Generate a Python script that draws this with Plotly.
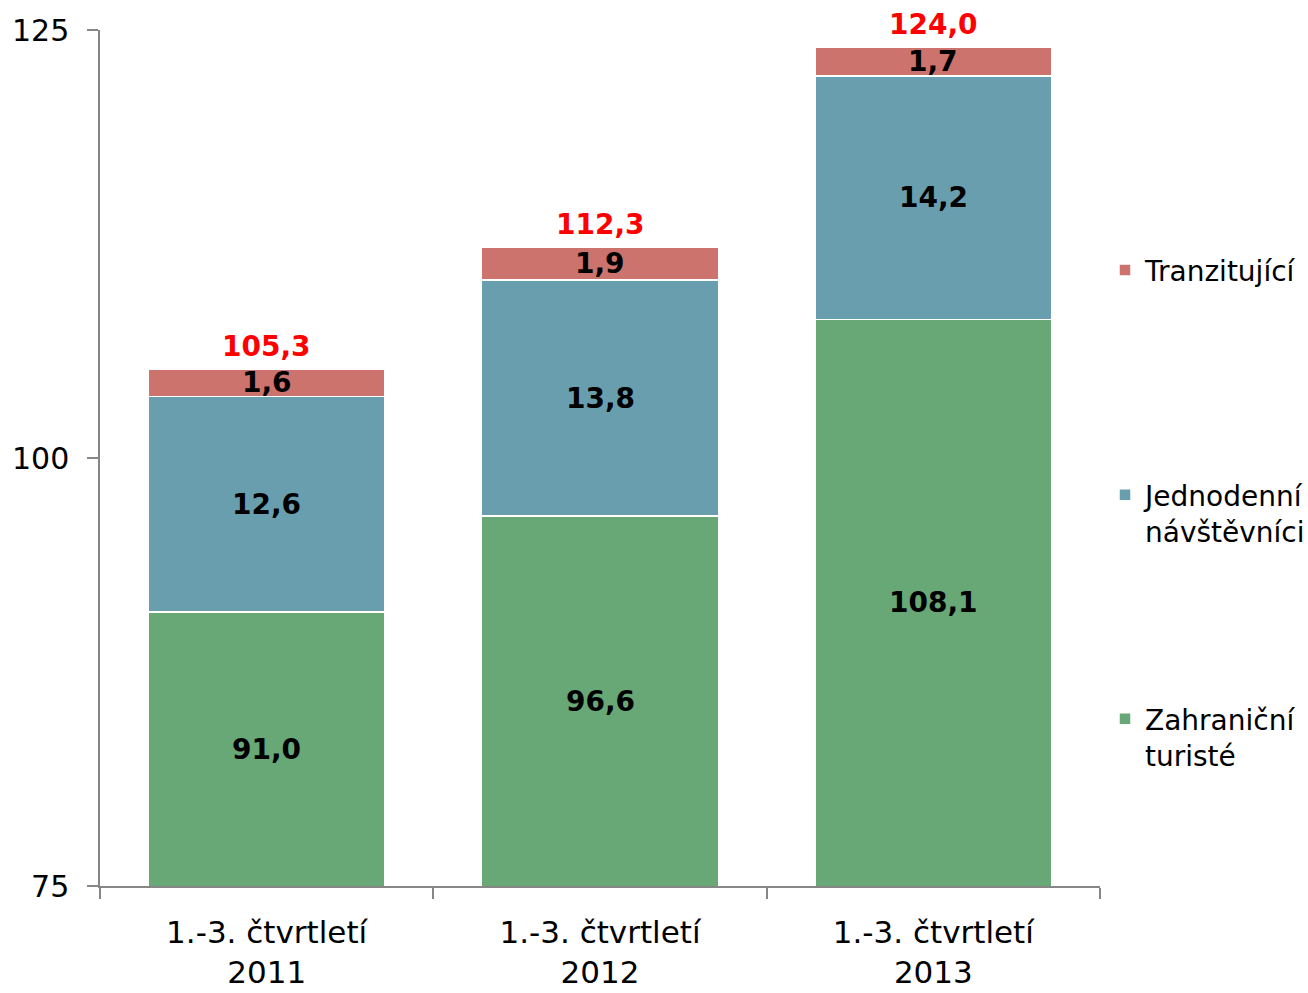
import plotly.graph_objects as go

categories = ["1.-3. čtvrtletí<br>2011", "1.-3. čtvrtletí<br>2012", "1.-3. čtvrtletí<br>2013"]
zahranicni = [91.0, 96.6, 108.1]
jednodenni = [12.6, 13.8, 14.2]
tranzit = [1.6, 1.9, 1.7]
totals = [105.3, 112.3, 124.0]
series_names = ["Zahraniční<br>turisté", "Jednodenní<br>návštěvníci", "Tranzitující"]
colors = ["#68A776", "#689EAE", "#CC736E"]

Y_MIN, Y_MAX = 75, 125
FONT = "DejaVu Sans"

def fmt(v):
    return f"{v:.1f}".replace(".", ",")

fig = go.Figure()
series = [zahranicni, jednodenni, tranzit]
legends = ["legend3", "legend2", "legend"]
for vals, name, col, lg in zip(series, series_names, colors, legends):
    fig.add_trace(go.Bar(
        x=categories, y=vals, name=name,
        marker=dict(color=col, line=dict(color="white", width=1.5)),
        legend=lg, showlegend=True, hoverinfo="skip",
    ))

# segment labels
annotations = []
for i, cat in enumerate(categories):
    base = 0.0
    for vals in series:
        lo = max(base, Y_MIN)
        hi = base + vals[i]
        annotations.append(dict(
            x=cat, y=(lo + hi) / 2, xref="x", yref="y", text=fmt(vals[i]),
            showarrow=False, font=dict(family=FONT, size=28, color="black", weight="bold"),
        ))
        base = hi
    annotations.append(dict(
        x=cat, y=base, xref="x", yref="y", text=fmt(totals[i]),
        showarrow=False, yanchor="bottom", yshift=4,
        font=dict(family=FONT, size=28, color="#FF0000", weight="bold"),
    ))

legend_style = dict(font=dict(family=FONT, size=28, color="black"), bgcolor="rgba(0,0,0,0)",
                    xref="container", yref="container",
                    xanchor="left", yanchor="top", valign="top", itemwidth=30)

fig.update_layout(
    width=1308, height=993,
    margin=dict(l=100, r=208, t=30, b=107, autoexpand=False),
    paper_bgcolor="white", plot_bgcolor="white",
    barmode="stack", bargap=0.29,
    showlegend=True,
    font=dict(family=FONT, color="black"),
    annotations=annotations,
    legend=dict(x=0.8448, y=0.753, **legend_style),
    legend2=dict(x=0.8448, y=0.5267, **legend_style),
    legend3=dict(x=0.8448, y=0.3011, **legend_style),
    xaxis=dict(
        showline=True, linecolor="#868686", linewidth=1.5, automargin=False,
        ticks="outside", tickson="boundaries", ticklen=11, tickcolor="#868686", tickwidth=1.5,
        ticklabelstandoff=18,
        tickfont=dict(family=FONT, size=31, color="black"), showgrid=False,
    ),
    yaxis=dict(
        range=[Y_MIN, Y_MAX], dtick=25, tick0=75, automargin=False,
        showline=True, linecolor="#868686", linewidth=1.5,
        ticks="outside", ticklen=11, tickcolor="#868686", tickwidth=1.5,
        ticklabelstandoff=12,
        tickfont=dict(family=FONT, size=30, color="black"), showgrid=False, zeroline=False,
    ),
)

fig.write_html("out.html", config={"displayModeBar": False},
               post_script="document.body.style.margin='0';document.body.style.overflow='hidden';")
